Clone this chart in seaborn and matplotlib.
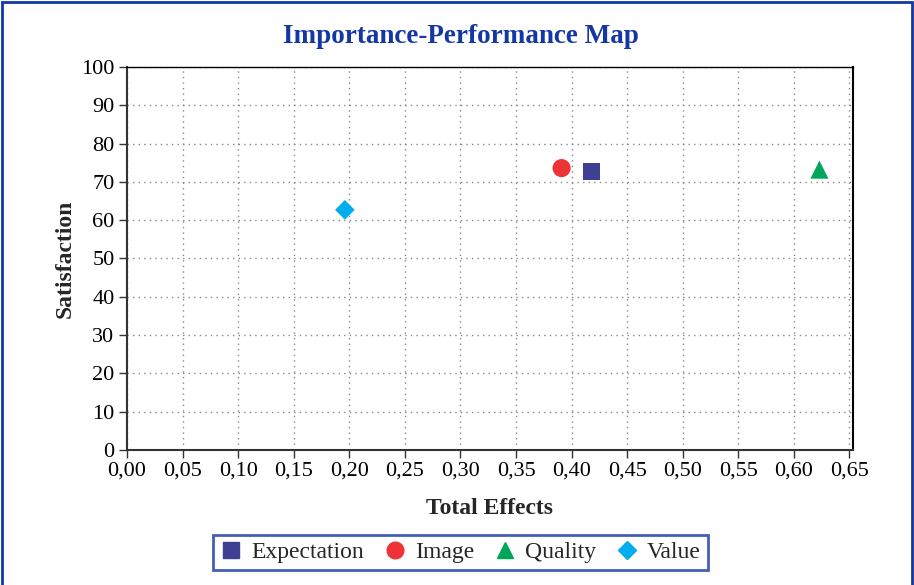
import matplotlib
matplotlib.use("Agg")
import matplotlib.pyplot as plt
import seaborn as sns
import pandas as pd
from matplotlib.patches import Rectangle
from matplotlib.ticker import FuncFormatter, MultipleLocator

constructs = ["Expectation", "Image", "Quality", "Value"]
total_effects = [0.418, 0.391, 0.623, 0.196]
satisfaction = [72.6, 73.6, 73.2, 62.7]

colors = {"Expectation": "#3f3f94", "Image": "#ee3338", "Quality": "#00a65a", "Value": "#00aeef"}
markers = {"Expectation": "s", "Image": "o", "Quality": "^", "Value": "D"}
marker_sizes = {"Expectation": 150, "Image": 170, "Quality": 170, "Value": 100}

df = pd.DataFrame({"Construct": constructs, "Total Effects": total_effects, "Satisfaction": satisfaction})

sns.set_style("white")
plt.rcParams["font.family"] = ["Liberation Serif", "DejaVu Serif"]
blue = "#1537a3"

fig = plt.figure(figsize=(9.14, 5.85), dpi=100)
ax = fig.add_axes([0.139, 0.2308, 0.794, 0.6547])

sns.scatterplot(data=df, x="Total Effects", y="Satisfaction", hue="Construct", style="Construct",
                size="Construct", sizes=marker_sizes, palette=colors, markers=markers,
                edgecolor="none", ax=ax, legend=False)

ax.set_xlim(0, 0.653)
ax.set_ylim(0, 100)
ax.xaxis.set_major_locator(MultipleLocator(0.05))
ax.yaxis.set_major_locator(MultipleLocator(10))
ax.xaxis.set_major_formatter(FuncFormatter(lambda v, p: f"{v:.2f}".replace(".", ",")))
ax.grid(True, linestyle=(0, (1, 3)), color="#888888", linewidth=1)
ax.tick_params(axis="both", direction="out", length=6, width=1, colors="#333333", labelcolor="black", labelsize=16,
               bottom=True, left=True, pad=3)
ax.tick_params(axis="x", pad=2)
for side in ["left", "bottom"]:
    ax.spines[side].set_color("#333333")
    ax.spines[side].set_linewidth(1.5)
ax.spines["top"].set_color("black")
ax.spines["top"].set_linewidth(1.0)
ax.spines["right"].set_color("black")
ax.spines["right"].set_linewidth(1.5)

ax.set_xlabel("Total Effects", fontsize=17, fontweight="bold", labelpad=13)
ax.set_ylabel("Satisfaction", fontsize=17, fontweight="bold", labelpad=4)

fig.text(0.504, 0.938, "Importance-Performance Map", ha="center", va="center",
         fontsize=19.5, fontweight="bold", color=blue)

handles = [plt.Line2D([], [], linestyle="none", marker=markers[c], color=colors[c],
                      markersize=9 if markers[c] == "D" else 12)
           for c in constructs]
leg = fig.legend(handles, constructs, loc="center", bbox_to_anchor=(0.5035, 0.0555), ncol=4, fontsize=17,
                 frameon=True, fancybox=False, handlelength=1.0, handletextpad=0.35, columnspacing=0.8,
                 borderpad=0.3)
leg.get_frame().set_edgecolor(blue)
leg.get_frame().set_linewidth(2)

fig.patches.append(Rectangle((0.002, -0.1), 0.996, 1.097, transform=fig.transFigure, fill=False,
                             edgecolor=blue, linewidth=2))

fig.savefig("out.png", dpi=100)
